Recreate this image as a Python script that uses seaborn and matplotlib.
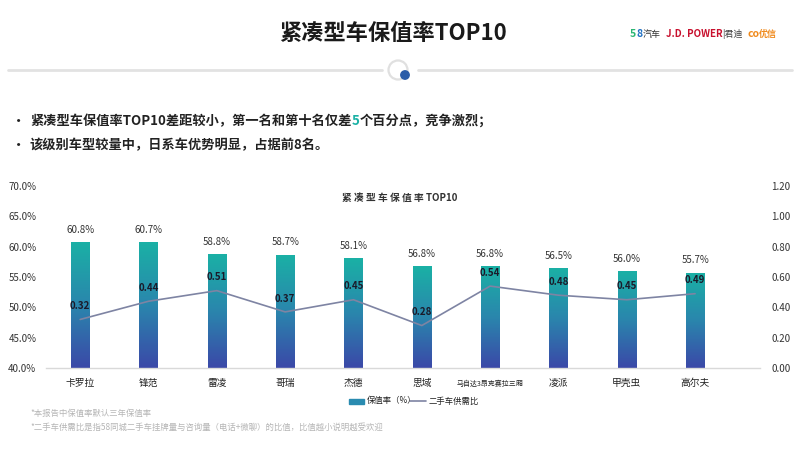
import numpy as np
import pandas as pd
import matplotlib
matplotlib.use("Agg")
import seaborn as sns
import matplotlib.pyplot as plt
from matplotlib.colors import LinearSegmentedColormap
from matplotlib.patches import Circle, Rectangle
from matplotlib.text import Annotation

# 数据
models = ["卡罗拉", "锋范", "雷凌", "哥瑞", "杰德", "思域", "马自达3昂克赛拉三厢", "凌派", "甲壳虫", "高尔夫"]
retention = [60.8, 60.7, 58.8, 58.7, 58.1, 56.8, 56.8, 56.5, 56.0, 55.7]
supply_demand = [0.32, 0.44, 0.51, 0.37, 0.45, 0.28, 0.54, 0.48, 0.45, 0.49]
left_ticks = [40, 45, 50, 55, 60, 65, 70]
right_ticks = [0.0, 0.2, 0.4, 0.6, 0.8, 1.0, 1.2]

TEAL = "#1ab1a5"
BLUE = "#3b48a8"
LINE_C = "#7e84a3"
grad = LinearSegmentedColormap.from_list("g", [BLUE, "#2a86ad", TEAL])

sns.set_theme(style="white")
plt.rcParams["font.family"] = ["Noto Sans CJK SC", "DejaVu Sans"]

fig = plt.figure(figsize=(8, 4.49), dpi=100)
W, H = 800, 449


def fx(px):
    return px / W


def fy(py):
    return 1 - py / H


def after(prev, s, gap=0, **kw):
    # 把文字接在前一段文字后面
    a = Annotation(s, xy=(1, 0.5), xycoords=prev, xytext=(gap, 0), textcoords="offset points",
                   ha="left", va="center", **kw)
    fig.add_artist(a)
    return a


# 页眉
fig.text(fx(393), fy(34), "紧凑型车保值率TOP10", ha="center", va="center",
         fontsize=16, fontweight="bold", color="#1a1a1a")
t = fig.text(fx(630), fy(34), "5", color="#2bb673", fontsize=7.5, fontweight="bold", va="center")
t = after(t, "8", 0, color="#1f6fc2", fontsize=7.5, fontweight="bold")
t = after(t, "汽车", 0, color="#333333", fontsize=6.5)
t = after(t, "J.D. POWER", 4, color="#c8102e", fontsize=7, fontweight="bold")
t = after(t, "|君迪", 0, color="#444444", fontsize=6.5)
t = after(t, "co", 3, color="#f08a1c", fontsize=7.5, fontweight="bold")
t = after(t, "优信", 0, color="#f08a1c", fontsize=6.5, fontweight="bold")

# 分隔线和圆圈
fig.add_artist(plt.Line2D([fx(8), fx(382)], [fy(70), fy(70)], color="#e2e2e2", lw=2))
fig.add_artist(plt.Line2D([fx(418), fx(792)], [fy(70), fy(70)], color="#e2e2e2", lw=2))
hdr = fig.add_axes([fx(385), fy(84), fx(28), 28 / H])
hdr.set_xlim(0, 28)
hdr.set_ylim(28, 0)
hdr.set_aspect("equal")
hdr.axis("off")
hdr.add_patch(Circle((13, 14), 9.5, fill=False, ec="#e0e0e0", lw=1.6))
hdr.add_patch(Circle((20, 19), 4.2, color="#2a5ca8"))

# 要点
fig.text(fx(11), fy(121), "•", fontsize=11, va="center", color="#222222")
fig.text(fx(11), fy(145), "•", fontsize=11, va="center", color="#222222")
t = fig.text(fx(30), fy(121), "紧凑型车保值率TOP10差距较小，第一名和第十名仅差", fontsize=9.5,
             fontweight="bold", va="center", color="#222222")
t = after(t, "5", 0, fontsize=9.5, fontweight="bold", color=TEAL)
after(t, "个百分点，竞争激烈；", 0, fontsize=9.5, fontweight="bold", color="#222222")
fig.text(fx(30), fy(145), "该级别车型较量中，日系车优势明显，占据前8名。", fontsize=9.5,
         fontweight="bold", va="center", color="#222222")

# 图表
ax = fig.add_axes([fx(46), fy(368), fx(760 - 46), (368 - 186) / H])
df = pd.DataFrame({"车型": models, "保值率": retention})
sns.barplot(data=df, x="车型", y="保值率", ax=ax, color=TEAL, width=0.27, saturation=1)

img = np.linspace(0, 1, 256).reshape(-1, 1)
for p in list(ax.patches):
    x0 = p.get_x()
    x1, y1 = x0 + p.get_width(), p.get_height()
    im = ax.imshow(img, cmap=grad, origin="lower", extent=[x0, x1, 40, y1],
                   aspect="auto", zorder=2)
    im.set_clip_path(p)
    p.set_facecolor("none")
    p.set_edgecolor("none")
ax.set_ylim(40, 70)
ax.set_xlim(-0.5, 9.95)

for i, v in enumerate(retention):
    ax.text(i, v + 1.2, f"{v:.1f}%", ha="center", va="bottom", fontsize=7, color="#333333")

ax.set_yticks(left_ticks)
ax.set_yticklabels([f"{t:.1f}%" for t in left_ticks], fontsize=7, color="#333333")
ax.set_xticks(range(len(models)))
ax.set_xticklabels(models, fontsize=7, color="#222222")
for lab in ax.get_xticklabels():
    if len(lab.get_text()) > 4:
        lab.set_fontsize(5)
        lab.set_y(-0.012)
ax.tick_params(axis="both", length=0, pad=7)
ax.set_xlabel("")
ax.set_ylabel("")
for s in ["top", "left", "right"]:
    ax.spines[s].set_visible(False)
ax.spines["bottom"].set_color("#d9d9d9")
ax.spines["bottom"].set_linewidth(1)
ax.patch.set_alpha(0)

ax2 = ax.twinx()
sns.lineplot(x=list(range(len(models))), y=supply_demand, ax=ax2, color=LINE_C, lw=1.2)
ax2.set_ylim(0, 1.2)
ax2.set_yticks(right_ticks)
ax2.set_yticklabels([f"{t:.2f}" for t in right_ticks], fontsize=7, color="#333333")
ax2.tick_params(axis="y", length=0, pad=8)
for s in ["top", "left", "right", "bottom"]:
    ax2.spines[s].set_visible(False)
for i, v in enumerate(supply_demand):
    ax2.text(i, v + 0.055, f"{v:.2f}", ha="center", va="bottom", fontsize=7,
             fontweight="bold", color="#1a1a2a")

fig.text(fx(400), fy(198), "紧 凑 型 车 保 值 率 TOP10", ha="center", va="center",
         fontsize=7, fontweight="bold", style="italic", color="#333333")

# 图例
fig.patches.append(Rectangle((fx(349), fy(403.5)), fx(15), 5 / H, transform=fig.transFigure,
                             color="#2a8bb0", figure=fig))
fig.text(fx(367), fy(401), "保值率（%）", fontsize=6, va="center", color="#222222")
fig.add_artist(plt.Line2D([fx(410), fx(426)], [fy(401), fy(401)], color=LINE_C, lw=1.2))
fig.text(fx(429), fy(401), "二手车供需比", fontsize=6, va="center", color="#222222")

# 注释
fig.text(fx(30), fy(413), "*本报告中保值率默认三年保值率", fontsize=6, va="center", color="#b5b5b5")
fig.text(fx(30), fy(427), "*二手车供需比是指58同城二手车挂牌量与咨询量（电话+微聊）的比值，比值越小说明越受欢迎",
         fontsize=6, va="center", color="#b5b5b5")

fig.savefig("out.png", dpi=100, facecolor="white")
